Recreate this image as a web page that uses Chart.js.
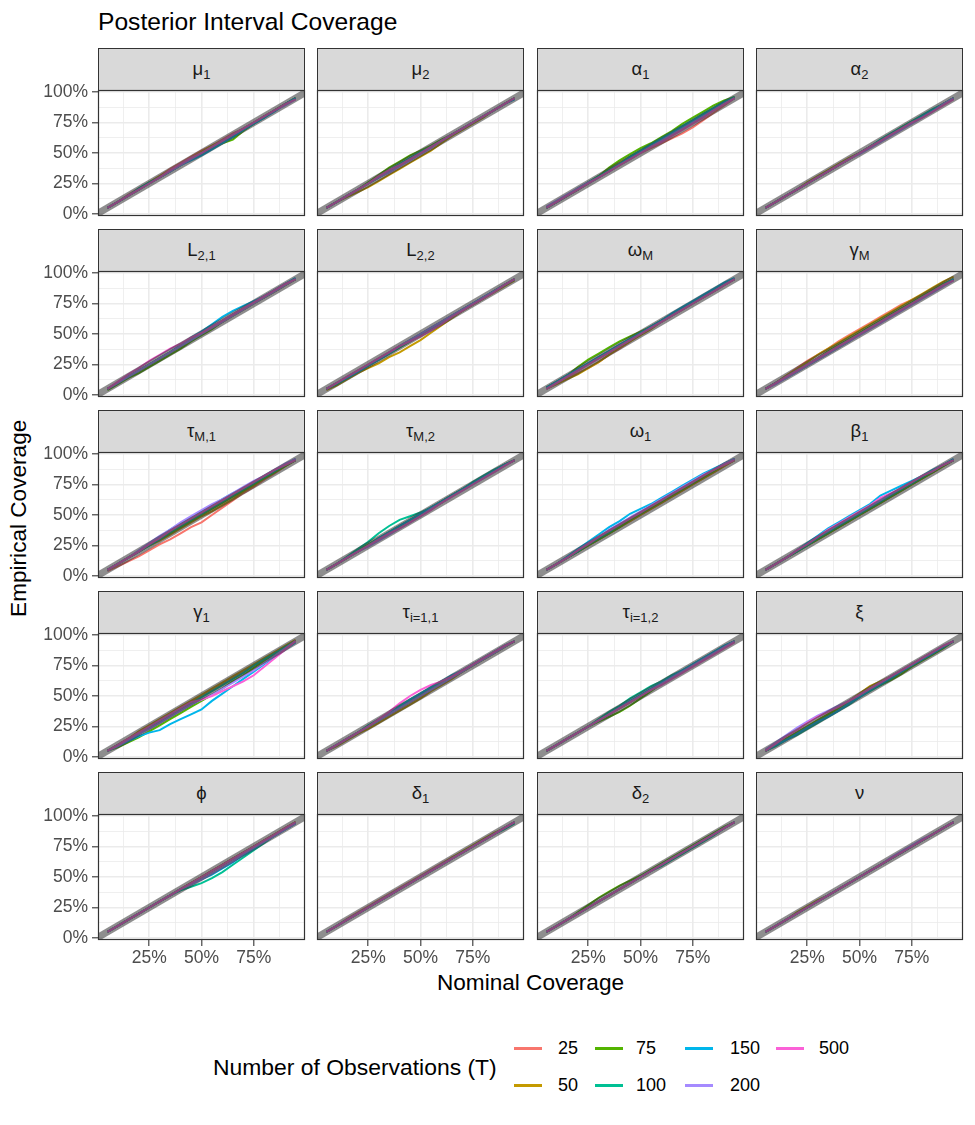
<!DOCTYPE html>
<html>
<head>
<meta charset="utf-8">
<script src="https://cdn.jsdelivr.net/npm/chart.js@4.4.1/dist/chart.umd.min.js"></script>
<style>
  body { margin: 0; background: #fff; font-family: "Liberation Sans", Arial, sans-serif; }
  #wrap { position: relative; width: 975px; height: 1125px; overflow: hidden; }
  .strip { position: absolute; box-sizing: border-box; border: 1px solid #333; background: #d9d9d9; color: #1a1a1a;
           font-size: 18.5px; display: flex; align-items: center; justify-content: center; }
  .strip span { display: inline-block; line-height: 1; }
  .strip sub { font-size: 13px; vertical-align: -4px; line-height: 0; }
  canvas { position: absolute; }
  .txt { position: absolute; line-height: 1; white-space: nowrap; color: #000; }
  .key { position: absolute; width: 28px; height: 2.5px; }
</style>
</head>
<body>
<div id="wrap">
  <div class="txt" style="left:98px;top:10px;font-size:24.6px;">Posterior Interval Coverage</div>
  <div class="txt" style="left:380px;top:972px;width:301px;text-align:center;font-size:22.6px;">Nominal Coverage</div>
  <div class="txt" style="left:-131px;top:507px;width:300px;text-align:center;font-size:22.6px;transform:rotate(-90deg);">Empirical Coverage</div>
  <div class="txt" style="left:213px;top:1056px;font-size:22.9px;">Number of Observations (T)</div>
</div>
<script>
// nominal coverage levels (x) and sample sizes
const nominal = [.05,.10,.15,.20,.25,.30,.35,.40,.45,.50,.55,.60,.65,.70,.75,.80,.85,.90,.95];
const sampleSizes = ['25', '50', '75', '100', '150', '200', '500'];
const seriesColors = ['#F8766D', '#C49A00', '#53B400', '#00C094', '#00B6EB', '#A58AFF', '#FB61D7'];
const xTickLabels = [.25, .5, .75];
const yTickLabels = [0, .25, .5, .75, 1];
const xGrid = [.125, .25, .375, .5, .625, .75, .875];
const yGrid = [0, .125, .25, .375, .5, .625, .75, .875, 1];
const identityLine = [-0.05, 1.05];

const panelLabels = ['μ<sub>1</sub>', 'μ<sub>2</sub>', 'α<sub>1</sub>', 'α<sub>2</sub>',
  'L<sub>2,1</sub>', 'L<sub>2,2</sub>', 'ω<sub>M</sub>', 'γ<sub>M</sub>',
  'τ<sub>M,1</sub>', 'τ<sub>M,2</sub>', 'ω<sub>1</sub>', 'β<sub>1</sub>',
  'γ<sub>1</sub>', 'τ<sub>i=1,1</sub>', 'τ<sub>i=1,2</sub>', 'ξ',
  'ϕ', 'δ<sub>1</sub>', 'δ<sub>2</sub>', 'ν'];

// empirical coverage, one row per sample size (25,50,75,100,150,200,500)
const mu1 = [
  [.05,.10,.16,.21,.26,.31,.37,.42,.47,.52,.56,.61,.66,.70,.75,.80,.85,.90,.95],
  [.05,.10,.15,.20,.26,.31,.36,.41,.46,.51,.56,.60,.65,.70,.75,.80,.85,.90,.95],
  [.05,.10,.15,.20,.25,.30,.35,.40,.45,.50,.54,.58,.61,.68,.74,.80,.85,.90,.95],
  [.05,.10,.15,.21,.26,.30,.35,.40,.45,.49,.54,.59,.64,.69,.74,.79,.85,.90,.95],
  [.05,.10,.15,.20,.25,.30,.35,.40,.44,.48,.53,.58,.63,.69,.74,.79,.84,.90,.95],
  [.05,.10,.15,.20,.25,.30,.35,.40,.45,.50,.55,.60,.65,.70,.75,.80,.85,.89,.94],
  [.05,.10,.15,.20,.25,.30,.36,.41,.46,.50,.55,.60,.65,.70,.75,.80,.85,.90,.94]
];
const mu2 = [
  [.05,.10,.15,.20,.25,.30,.35,.40,.45,.50,.55,.60,.65,.70,.75,.80,.85,.90,.95],
  [.05,.10,.14,.18,.22,.27,.32,.37,.42,.47,.52,.58,.64,.69,.74,.79,.85,.90,.95],
  [.05,.10,.15,.20,.26,.32,.38,.43,.48,.52,.56,.61,.65,.70,.75,.80,.85,.90,.95],
  [.05,.10,.15,.20,.25,.30,.36,.41,.46,.51,.55,.60,.65,.70,.75,.80,.85,.90,.95],
  [.05,.10,.15,.20,.25,.30,.35,.40,.45,.50,.55,.60,.65,.70,.75,.80,.85,.90,.94],
  [.05,.10,.15,.20,.25,.30,.34,.39,.44,.49,.54,.60,.65,.70,.75,.80,.85,.90,.95],
  [.05,.10,.15,.20,.25,.31,.36,.40,.45,.50,.55,.60,.65,.70,.75,.80,.85,.90,.95]
];
const alpha1 = [
  [.05,.10,.15,.20,.25,.30,.35,.40,.45,.50,.54,.58,.62,.66,.71,.77,.83,.89,.95],
  [.05,.10,.15,.20,.25,.31,.37,.42,.47,.52,.57,.62,.66,.71,.76,.81,.86,.91,.95],
  [.05,.10,.15,.20,.26,.31,.38,.44,.49,.54,.58,.63,.68,.74,.79,.84,.89,.93,.96],
  [.05,.10,.15,.21,.26,.31,.36,.41,.47,.52,.57,.62,.67,.72,.77,.82,.87,.92,.96],
  [.05,.10,.15,.20,.25,.30,.35,.41,.46,.51,.56,.61,.66,.71,.76,.81,.86,.91,.95],
  [.06,.11,.16,.21,.26,.30,.35,.40,.45,.50,.55,.60,.65,.70,.75,.80,.85,.90,.95],
  [.05,.10,.15,.20,.25,.30,.35,.40,.45,.50,.55,.59,.64,.69,.74,.79,.85,.90,.95]
];
const alpha2 = [
  [.05,.10,.15,.20,.25,.30,.35,.40,.45,.50,.55,.60,.65,.70,.75,.80,.85,.90,.95],
  [.05,.10,.15,.20,.26,.31,.36,.41,.46,.50,.55,.60,.65,.70,.75,.80,.85,.90,.95],
  [.05,.10,.15,.20,.25,.30,.35,.40,.45,.50,.55,.60,.65,.71,.76,.80,.85,.90,.95],
  [.05,.10,.15,.20,.25,.30,.35,.40,.45,.50,.55,.61,.66,.71,.76,.81,.86,.90,.95],
  [.05,.10,.15,.20,.25,.30,.35,.40,.45,.50,.55,.60,.65,.70,.75,.80,.85,.90,.95],
  [.05,.10,.15,.20,.25,.30,.35,.40,.45,.49,.54,.59,.64,.69,.74,.79,.84,.90,.95],
  [.05,.10,.15,.20,.25,.30,.35,.40,.45,.50,.55,.60,.65,.70,.75,.79,.84,.89,.94]
];
const l21 = [
  [.05,.10,.15,.20,.25,.30,.35,.40,.45,.50,.55,.60,.65,.70,.75,.80,.85,.90,.95],
  [.05,.10,.15,.20,.25,.30,.35,.40,.45,.50,.55,.60,.66,.71,.76,.80,.85,.90,.95],
  [.04,.09,.14,.18,.23,.28,.33,.38,.44,.49,.54,.60,.65,.70,.75,.80,.85,.90,.95],
  [.05,.10,.15,.20,.25,.30,.35,.40,.45,.50,.56,.61,.66,.71,.76,.81,.86,.91,.95],
  [.05,.10,.15,.20,.25,.30,.35,.41,.47,.52,.58,.64,.69,.73,.77,.81,.86,.91,.96],
  [.05,.10,.15,.20,.25,.30,.35,.40,.45,.50,.55,.60,.65,.70,.75,.80,.85,.90,.95],
  [.05,.11,.17,.22,.28,.33,.38,.42,.47,.51,.56,.61,.66,.71,.76,.81,.86,.91,.95]
];
const l22 = [
  [.05,.10,.15,.20,.25,.30,.35,.40,.45,.50,.55,.60,.65,.70,.75,.80,.85,.90,.95],
  [.04,.08,.13,.18,.22,.26,.31,.35,.40,.45,.51,.57,.63,.69,.74,.79,.84,.89,.94],
  [.05,.09,.14,.19,.24,.29,.34,.39,.44,.49,.54,.59,.64,.69,.74,.79,.85,.90,.95],
  [.05,.09,.14,.19,.24,.29,.34,.39,.44,.49,.54,.59,.64,.70,.75,.80,.85,.90,.95],
  [.05,.10,.14,.19,.24,.29,.34,.40,.45,.50,.55,.60,.65,.70,.75,.80,.85,.90,.95],
  [.05,.10,.15,.20,.25,.30,.35,.40,.45,.50,.55,.60,.65,.70,.75,.80,.85,.90,.95],
  [.05,.10,.15,.20,.25,.30,.35,.40,.44,.48,.53,.58,.64,.69,.74,.79,.84,.90,.95]
];
const omegaM = [
  [.05,.10,.14,.18,.22,.27,.33,.38,.44,.50,.55,.60,.65,.70,.75,.80,.85,.90,.95],
  [.05,.09,.13,.17,.22,.27,.33,.39,.44,.49,.54,.60,.65,.70,.75,.80,.85,.90,.95],
  [.06,.11,.16,.23,.29,.34,.39,.44,.48,.52,.56,.61,.66,.71,.76,.81,.86,.91,.95],
  [.06,.11,.16,.21,.26,.31,.36,.41,.46,.51,.56,.61,.66,.71,.76,.81,.86,.91,.95],
  [.06,.11,.16,.21,.26,.31,.36,.41,.46,.51,.56,.61,.67,.72,.77,.82,.87,.92,.96],
  [.05,.10,.15,.20,.25,.30,.35,.40,.45,.50,.55,.60,.65,.70,.75,.80,.85,.90,.95],
  [.05,.10,.15,.20,.25,.30,.35,.40,.45,.50,.55,.60,.65,.70,.75,.80,.85,.90,.95]
];
const gammaM = [
  [.05,.10,.16,.22,.28,.33,.38,.44,.49,.54,.59,.64,.69,.74,.78,.82,.87,.91,.95],
  [.05,.10,.16,.21,.27,.33,.38,.43,.48,.53,.58,.63,.68,.73,.78,.83,.88,.93,.97],
  [.05,.10,.15,.20,.25,.30,.36,.41,.46,.51,.56,.61,.66,.71,.76,.81,.86,.91,.95],
  [.05,.10,.14,.19,.24,.29,.34,.39,.44,.50,.55,.60,.65,.70,.75,.80,.85,.90,.95],
  [.05,.10,.15,.20,.25,.30,.35,.40,.45,.50,.55,.60,.65,.70,.75,.80,.85,.90,.95],
  [.05,.09,.14,.19,.24,.29,.34,.39,.44,.49,.54,.59,.64,.69,.74,.79,.84,.89,.94],
  [.05,.10,.15,.20,.25,.30,.35,.40,.45,.50,.55,.60,.65,.70,.75,.80,.85,.90,.94]
];
const tauM1 = [
  [.04,.08,.12,.16,.21,.26,.30,.35,.40,.44,.50,.56,.62,.68,.73,.79,.84,.90,.95],
  [.05,.10,.15,.20,.25,.29,.34,.39,.44,.49,.53,.58,.63,.69,.74,.80,.85,.90,.95],
  [.05,.10,.15,.20,.25,.30,.35,.40,.45,.50,.55,.60,.65,.70,.75,.80,.85,.90,.95],
  [.05,.10,.15,.20,.25,.30,.36,.41,.46,.51,.56,.61,.66,.71,.76,.81,.86,.91,.95],
  [.05,.10,.15,.20,.26,.32,.38,.43,.48,.53,.58,.63,.68,.72,.77,.82,.87,.91,.96],
  [.05,.10,.15,.21,.27,.33,.38,.44,.49,.54,.59,.63,.68,.73,.78,.82,.87,.92,.96],
  [.05,.10,.15,.20,.26,.31,.37,.42,.47,.52,.57,.62,.67,.72,.77,.82,.87,.91,.95]
];
const tauM2 = [
  [.05,.10,.15,.20,.25,.30,.35,.40,.45,.50,.55,.61,.66,.71,.76,.81,.86,.91,.95],
  [.05,.10,.15,.20,.25,.30,.35,.40,.45,.50,.55,.60,.66,.71,.76,.81,.86,.91,.95],
  [.05,.10,.15,.21,.26,.31,.36,.41,.46,.51,.56,.61,.66,.71,.76,.81,.86,.91,.95],
  [.05,.10,.16,.22,.28,.35,.41,.46,.49,.52,.56,.61,.66,.71,.77,.82,.87,.91,.95],
  [.05,.10,.15,.20,.25,.31,.36,.41,.46,.51,.56,.61,.66,.71,.76,.81,.86,.91,.95],
  [.05,.10,.15,.20,.24,.29,.34,.39,.44,.49,.55,.60,.65,.70,.75,.80,.85,.90,.95],
  [.05,.10,.15,.20,.25,.30,.35,.39,.44,.49,.54,.60,.65,.70,.75,.80,.85,.90,.95]
];
const omega1 = [
  [.05,.10,.15,.20,.25,.30,.35,.40,.45,.50,.55,.60,.65,.70,.75,.80,.85,.90,.95],
  [.05,.10,.15,.20,.25,.30,.35,.40,.45,.50,.55,.60,.65,.70,.75,.80,.85,.90,.95],
  [.05,.10,.15,.20,.25,.30,.35,.40,.46,.51,.56,.61,.66,.71,.76,.81,.86,.91,.95],
  [.05,.10,.15,.20,.26,.31,.36,.42,.47,.52,.57,.62,.67,.72,.77,.82,.87,.92,.96],
  [.05,.10,.16,.22,.28,.34,.40,.45,.51,.55,.59,.64,.69,.74,.79,.84,.88,.92,.96],
  [.05,.10,.15,.21,.27,.32,.38,.43,.48,.53,.58,.63,.68,.73,.78,.83,.87,.92,.96],
  [.05,.10,.15,.21,.26,.32,.37,.42,.47,.52,.57,.62,.67,.72,.77,.82,.87,.91,.95]
];
const beta1 = [
  [.05,.10,.15,.20,.25,.30,.35,.40,.45,.50,.55,.60,.65,.70,.75,.80,.85,.90,.95],
  [.05,.10,.15,.20,.25,.30,.35,.40,.45,.50,.55,.60,.65,.70,.75,.80,.85,.90,.95],
  [.05,.10,.15,.20,.25,.30,.35,.40,.45,.50,.55,.60,.65,.70,.75,.80,.85,.90,.95],
  [.05,.10,.15,.20,.25,.31,.36,.41,.46,.51,.56,.61,.66,.71,.76,.81,.86,.91,.95],
  [.05,.10,.15,.21,.27,.33,.39,.44,.49,.54,.59,.66,.70,.74,.78,.82,.87,.91,.96],
  [.05,.10,.15,.21,.26,.32,.37,.42,.47,.52,.57,.62,.67,.72,.77,.82,.86,.91,.95],
  [.05,.10,.15,.21,.26,.32,.38,.43,.48,.53,.58,.64,.68,.72,.77,.82,.86,.91,.95]
];
const gamma1 = [
  [.05,.10,.15,.20,.25,.30,.35,.40,.45,.50,.55,.60,.65,.70,.75,.80,.85,.90,.95],
  [.05,.10,.15,.21,.26,.31,.36,.41,.46,.51,.56,.61,.66,.71,.76,.81,.86,.91,.96],
  [.05,.08,.12,.16,.21,.26,.31,.36,.41,.46,.51,.56,.62,.67,.73,.79,.84,.90,.95],
  [.05,.10,.14,.19,.24,.29,.34,.39,.44,.49,.54,.59,.64,.69,.75,.80,.85,.90,.95],
  [.05,.09,.13,.17,.20,.22,.27,.31,.35,.39,.46,.52,.58,.64,.70,.76,.82,.88,.94],
  [.05,.09,.14,.19,.23,.28,.33,.38,.43,.47,.51,.56,.61,.66,.71,.77,.83,.89,.95],
  [.05,.10,.15,.20,.25,.30,.35,.40,.45,.47,.50,.54,.58,.62,.67,.74,.81,.88,.95]
];
const tauI11 = [
  [.05,.10,.15,.20,.25,.30,.35,.40,.45,.50,.55,.60,.65,.70,.75,.80,.85,.90,.95],
  [.05,.09,.14,.19,.23,.28,.33,.38,.43,.48,.54,.59,.64,.70,.75,.80,.85,.90,.95],
  [.05,.10,.15,.20,.25,.30,.35,.40,.45,.50,.55,.60,.65,.70,.75,.80,.85,.90,.95],
  [.05,.10,.15,.20,.26,.31,.36,.42,.47,.52,.57,.62,.66,.71,.76,.81,.86,.91,.95],
  [.05,.10,.15,.20,.25,.30,.36,.41,.47,.52,.57,.62,.67,.71,.76,.81,.86,.91,.95],
  [.05,.10,.15,.20,.25,.30,.35,.40,.45,.50,.55,.60,.65,.70,.75,.80,.85,.90,.95],
  [.05,.10,.15,.20,.25,.31,.37,.44,.50,.55,.59,.62,.66,.71,.76,.81,.86,.91,.95]
];
const tauI12 = [
  [.05,.10,.15,.20,.25,.30,.35,.40,.45,.50,.55,.60,.65,.70,.75,.80,.85,.90,.95],
  [.05,.10,.15,.20,.25,.30,.35,.40,.45,.50,.55,.60,.65,.70,.75,.80,.85,.90,.95],
  [.05,.10,.15,.20,.25,.29,.33,.37,.42,.48,.54,.60,.65,.70,.75,.80,.85,.90,.95],
  [.05,.10,.15,.20,.25,.31,.37,.42,.48,.53,.58,.62,.67,.71,.76,.81,.86,.91,.95],
  [.05,.10,.15,.20,.25,.30,.35,.41,.46,.51,.56,.61,.66,.71,.76,.81,.86,.91,.95],
  [.05,.10,.15,.20,.25,.30,.35,.40,.45,.50,.55,.60,.65,.70,.75,.80,.85,.90,.95],
  [.05,.10,.15,.20,.25,.30,.35,.40,.45,.50,.55,.59,.64,.69,.74,.79,.84,.89,.94]
];
const xi = [
  [.05,.10,.15,.20,.25,.30,.35,.40,.45,.50,.55,.60,.65,.70,.75,.80,.85,.90,.95],
  [.05,.10,.15,.20,.25,.30,.35,.40,.46,.52,.58,.62,.66,.71,.76,.81,.86,.90,.95],
  [.05,.10,.15,.20,.25,.30,.35,.40,.45,.50,.55,.59,.63,.68,.74,.79,.84,.89,.95],
  [.05,.09,.14,.18,.23,.28,.33,.38,.43,.49,.54,.59,.64,.70,.75,.80,.85,.90,.95],
  [.05,.10,.14,.19,.24,.29,.33,.38,.44,.49,.55,.60,.65,.70,.75,.80,.85,.90,.95],
  [.06,.12,.18,.24,.29,.34,.38,.42,.46,.51,.56,.61,.66,.71,.76,.81,.86,.91,.95],
  [.05,.11,.17,.22,.28,.33,.37,.41,.46,.51,.56,.61,.66,.71,.76,.81,.86,.91,.95]
];
const phi = [
  [.05,.10,.15,.20,.25,.30,.35,.40,.45,.50,.55,.60,.65,.70,.75,.80,.85,.90,.95],
  [.05,.10,.15,.20,.25,.30,.35,.40,.45,.50,.55,.60,.65,.70,.75,.80,.85,.90,.95],
  [.05,.10,.15,.20,.25,.30,.35,.40,.45,.50,.55,.60,.65,.70,.75,.80,.85,.90,.95],
  [.05,.10,.15,.20,.25,.30,.35,.39,.42,.45,.49,.54,.60,.66,.72,.78,.84,.89,.94],
  [.05,.10,.15,.20,.25,.30,.35,.40,.44,.48,.52,.57,.62,.68,.73,.79,.84,.89,.94],
  [.05,.10,.15,.20,.25,.30,.35,.40,.44,.48,.53,.58,.63,.69,.74,.79,.84,.89,.94],
  [.05,.10,.15,.20,.25,.30,.35,.40,.45,.50,.55,.60,.65,.70,.75,.80,.85,.90,.95]
];
const delta1 = [
  [.05,.10,.16,.21,.26,.31,.36,.41,.46,.51,.56,.61,.66,.70,.75,.80,.85,.90,.95],
  [.05,.10,.15,.20,.25,.30,.35,.40,.45,.50,.55,.60,.66,.71,.76,.81,.86,.90,.95],
  [.05,.10,.15,.20,.25,.30,.35,.40,.45,.50,.55,.60,.65,.70,.75,.80,.85,.90,.95],
  [.05,.10,.15,.20,.25,.30,.35,.40,.45,.50,.55,.60,.65,.70,.75,.80,.85,.89,.94],
  [.05,.10,.15,.20,.25,.30,.35,.40,.45,.50,.55,.60,.65,.70,.75,.80,.85,.90,.95],
  [.05,.10,.15,.20,.25,.30,.35,.40,.45,.50,.55,.60,.65,.70,.75,.80,.85,.90,.95],
  [.05,.10,.15,.20,.25,.30,.35,.40,.45,.50,.55,.60,.65,.70,.75,.80,.85,.90,.95]
];
const delta2 = [
  [.05,.10,.15,.20,.25,.30,.35,.40,.45,.50,.55,.60,.65,.70,.75,.80,.85,.90,.95],
  [.05,.10,.15,.20,.25,.30,.35,.40,.45,.50,.55,.60,.65,.70,.75,.80,.85,.90,.95],
  [.05,.10,.15,.21,.27,.33,.38,.43,.47,.51,.56,.61,.66,.71,.76,.81,.86,.91,.95],
  [.05,.10,.15,.20,.25,.30,.35,.40,.45,.50,.55,.59,.64,.69,.74,.79,.84,.90,.95],
  [.05,.10,.15,.20,.25,.30,.35,.40,.45,.50,.55,.60,.65,.70,.75,.80,.85,.90,.95],
  [.05,.10,.15,.20,.25,.30,.35,.40,.45,.50,.55,.60,.65,.70,.75,.80,.85,.90,.95],
  [.05,.10,.15,.20,.25,.30,.35,.40,.45,.50,.55,.60,.65,.70,.75,.80,.85,.90,.95]
];
const nu = [
  [.05,.10,.15,.20,.25,.30,.35,.40,.45,.50,.55,.60,.65,.70,.75,.80,.85,.90,.95],
  [.05,.10,.15,.21,.26,.31,.35,.40,.45,.50,.55,.60,.65,.70,.75,.80,.85,.90,.95],
  [.05,.10,.15,.20,.25,.30,.35,.40,.45,.50,.55,.60,.65,.70,.75,.80,.85,.90,.95],
  [.05,.10,.15,.20,.25,.30,.35,.40,.45,.50,.55,.60,.65,.70,.75,.80,.85,.90,.95],
  [.05,.10,.15,.20,.25,.30,.35,.40,.45,.50,.55,.60,.65,.70,.75,.80,.85,.90,.95],
  [.05,.10,.15,.20,.25,.30,.35,.40,.45,.50,.55,.60,.66,.71,.76,.81,.85,.90,.95],
  [.05,.10,.15,.20,.25,.30,.35,.40,.45,.50,.55,.60,.65,.70,.75,.80,.85,.90,.95]
];

const panelData = [mu1, mu2, alpha1, alpha2, l21, l22, omegaM, gammaM,
  tauM1, tauM2, omega1, beta1, gamma1, tauI11, tauI12, xi, phi, delta1, delta2, nu];

const wrap = document.getElementById('wrap');
const colX = [98, 317, 537, 756];
const firstStrip = 48, rowStep = 181, stripH = 42, plotH = 126, panelW = 207;
const tickFont = { family: 'Liberation Sans', size: 17.5 };

const panelBorder = {
  id: 'panelBorder',
  afterDatasetsDraw(chart) {
    const a = chart.chartArea, ctx = chart.ctx;
    ctx.save();
    ctx.strokeStyle = '#333333';
    ctx.lineWidth = 1.2;
    ctx.strokeRect(a.left + 0.5, a.top + 0.5, a.right - a.left - 1, a.bottom - a.top - 1);
    ctx.restore();
  }
};

panelData.forEach((rows, p) => {
  const r = Math.floor(p / 4), c = p % 4;
  const plotTop = firstStrip + r * rowStep + stripH;

  const strip = document.createElement('div');
  strip.className = 'strip';
  strip.style.left = colX[c] + 'px';
  strip.style.top = (plotTop - stripH) + 'px';
  strip.style.width = panelW + 'px';
  strip.style.height = (stripH + 1) + 'px';
  strip.innerHTML = '<span>' + panelLabels[p] + '</span>';
  wrap.appendChild(strip);

  const left = c === 0 ? 64 : 0;
  const bottom = r === 4 ? 34 : 0;
  const cv = document.createElement('canvas');
  cv.width = left + panelW + 4;
  cv.height = plotH + 20 + bottom;
  cv.style.left = (colX[c] - left - 2) + 'px';
  cv.style.top = (plotTop - 10) + 'px';
  wrap.appendChild(cv);

  const datasets = rows.map((vals, k) => ({
    label: sampleSizes[k],
    data: nominal.map((x, i) => ({ x: x, y: vals[i] })),
    borderColor: seriesColors[k],
    borderWidth: 2,
    pointRadius: 0,
    order: sampleSizes.length - k
  }));
  datasets.push({
    label: 'y = x',
    data: identityLine.map(v => ({ x: v, y: v })),
    borderColor: 'rgba(50,50,50,0.55)',
    borderWidth: 7,
    pointRadius: 0,
    order: 0,
    clip: 0
  });

  new Chart(cv, {
    type: 'line',
    data: { datasets },
    options: {
      responsive: false,
      animation: false,
      devicePixelRatio: 1,
      events: [],
      layout: { padding: { left: 2, right: 2, top: 10, bottom: 10 } },
      plugins: { legend: { display: false }, tooltip: { enabled: false } },
      scales: {
        x: {
          type: 'linear', min: 0.005, max: 0.995,
          afterBuildTicks: s => { s.ticks = xGrid.map(v => ({ value: v })); },
          afterFit: s => { s.height = bottom; s.paddingLeft = 0; s.paddingRight = 0; },
          ticks: {
            display: r === 4, autoSkip: false, maxRotation: 0, padding: 2,
            color: '#4d4d4d', font: tickFont,
            callback: v => xTickLabels.includes(v) ? Math.round(v * 100) + '%' : ''
          },
          grid: {
            color: '#ebebeb',
            lineWidth: ctx => xTickLabels.includes(ctx.tick.value) ? 1.6 : 0.8,
            drawTicks: r === 4, tickLength: 6,
            tickColor: ctx => xTickLabels.includes(ctx.tick.value) ? '#333333' : 'rgba(0,0,0,0)',
            tickWidth: 1.1
          },
          border: { display: false }
        },
        y: {
          type: 'linear', min: -0.0164, max: 1.0164,
          afterBuildTicks: s => { s.ticks = yGrid.map(v => ({ value: v })); },
          afterFit: s => { s.width = left; s.paddingTop = 0; s.paddingBottom = 0; },
          ticks: {
            display: c === 0, autoSkip: false, padding: 4,
            color: '#4d4d4d', font: tickFont,
            callback: v => yTickLabels.includes(v) ? Math.round(v * 100) + '%' : ''
          },
          grid: {
            color: '#ebebeb',
            lineWidth: ctx => yTickLabels.includes(ctx.tick.value) ? 1.6 : 0.8,
            drawTicks: c === 0, tickLength: 6,
            tickColor: ctx => yTickLabels.includes(ctx.tick.value) ? '#333333' : 'rgba(0,0,0,0)',
            tickWidth: 1.1
          },
          border: { display: false }
        }
      }
    },
    plugins: [panelBorder]
  });
});

// legend: two rows, filled column by column
const keyX = [514, 595, 685, 776];
const labelX = [558, 636, 730, 819];
const rowY = [1048, 1085];
sampleSizes.forEach((n, k) => {
  const col = Math.floor(k / 2), row = k % 2;
  const key = document.createElement('div');
  key.className = 'key';
  key.style.left = keyX[col] + 'px';
  key.style.top = (rowY[row] - 1) + 'px';
  key.style.background = seriesColors[k];
  wrap.appendChild(key);
  const lab = document.createElement('div');
  lab.className = 'txt';
  lab.style.left = labelX[col] + 'px';
  lab.style.top = (rowY[row] - 9) + 'px';
  lab.style.fontSize = '18px';
  lab.textContent = n;
  wrap.appendChild(lab);
});
</script>
</body>
</html>
